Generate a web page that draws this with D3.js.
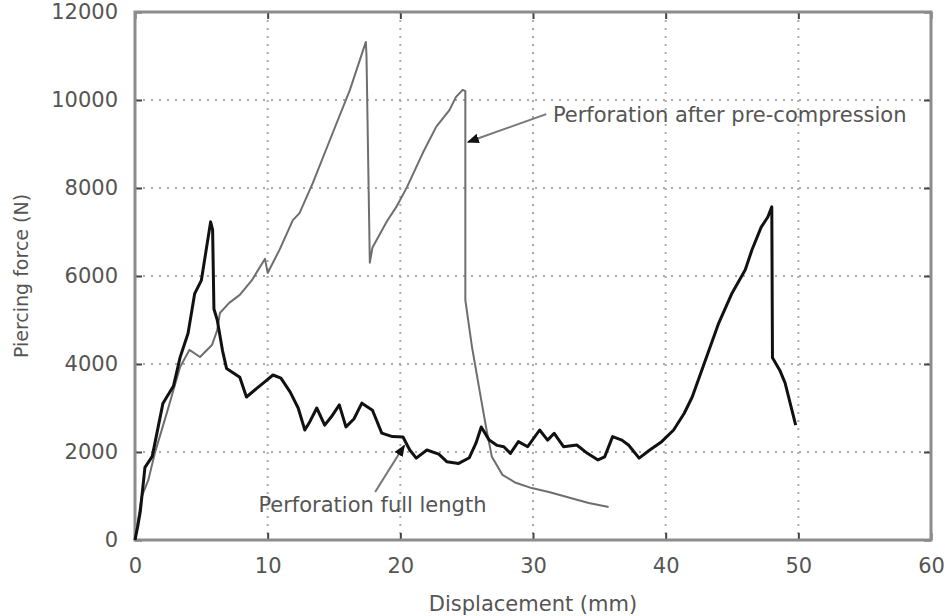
<!DOCTYPE html>
<html>
<head>
<meta charset="utf-8">
<script src="https://cdn.jsdelivr.net/npm/d3@7"></script>
<style>
  body { margin: 0; background: #fff; }
  text { font-family: "DejaVu Sans", sans-serif; fill: #555; }
</style>
</head>
<body>
<div id="chart"></div>
<script>
// Perforation test: displacement (mm) vs piercing force (N)
const xTicks = [0, 10, 20, 30, 40, 50, 60];
const yTicks = [0, 2000, 4000, 6000, 8000, 10000, 12000];

// black curve - perforation full length
const fullLength = [
    [0, 0], [0.2, 300], [0.4, 650], [0.75, 1650], [1.3, 1900], [2.1, 3100], [2.9, 3500],
    [3.4, 4150], [4.0, 4700], [4.5, 5600], [5.0, 5900], [5.7, 7230], [5.85, 7050],
    [5.95, 5250], [6.2, 5000], [6.6, 4300], [6.9, 3900], [7.1, 3860], [7.9, 3700],
    [8.4, 3250], [9.2, 3450], [9.8, 3600], [10.4, 3750], [11.0, 3680], [11.7, 3360],
    [12.3, 3000], [12.8, 2500], [13.2, 2700], [13.7, 3000], [14.3, 2610], [14.8, 2800],
    [15.4, 3070], [15.9, 2570], [16.5, 2750], [17.1, 3110], [17.9, 2950], [18.6, 2430],
    [19.4, 2350], [20.2, 2340], [20.7, 2050], [21.2, 1860], [22.0, 2045], [22.9, 1950],
    [23.5, 1780], [24.4, 1740], [25.2, 1870], [25.7, 2200], [26.1, 2570], [26.7, 2270],
    [27.3, 2150], [27.8, 2120], [28.3, 1970], [28.9, 2235], [29.6, 2120], [30.5, 2500],
    [31.1, 2270], [31.6, 2425], [32.3, 2120], [33.3, 2160], [34.1, 1970], [34.9, 1820],
    [35.4, 1890], [36.0, 2350], [36.7, 2270], [37.2, 2160], [38.0, 1860], [38.8, 2045],
    [39.7, 2235], [40.6, 2500], [41.4, 2880], [42.0, 3250], [43.0, 4090], [44.0, 4930],
    [45.0, 5610], [46.0, 6140], [46.5, 6590], [47.2, 7110], [47.7, 7340], [48.0, 7570],
    [48.05, 4140], [48.6, 3860], [49.0, 3570], [49.8, 2610]
];

// grey curve - perforation after pre-compression
const preCompression = [
    [0, 0], [0.5, 980], [1.0, 1360], [1.5, 1980], [2.4, 2890], [3.4, 3930], [4.1, 4320],
    [4.9, 4160], [5.8, 4430], [6.2, 4770], [6.4, 5160], [7.1, 5390], [7.9, 5570],
    [8.8, 5900], [9.8, 6390], [10.0, 6070], [10.9, 6600], [11.9, 7270], [12.4, 7430],
    [13.4, 8110], [14.9, 9250], [16.2, 10230], [17.4, 11320], [17.45, 11000],
    [17.7, 6300], [17.9, 6650], [19.0, 7250], [19.7, 7570], [20.5, 8020], [21.7, 8800],
    [22.7, 9390], [23.7, 9770], [24.2, 10070], [24.7, 10230], [24.9, 10200], [24.9, 5450],
    [25.4, 4390], [26.1, 3180], [26.5, 2500], [26.9, 1890], [27.7, 1480], [28.7, 1300],
    [29.9, 1180], [31.2, 1090], [32.9, 950], [34.2, 840], [35.7, 750]
];

const width = 947;
const height = 616;
const margin = { top: 12, right: 16, bottom: 76, left: 135 };

const svg = d3.select("#chart")
    .append("svg")
    .attr("width", width)
    .attr("height", height);

const x = d3.scaleLinear()
    .domain([0, 60])
    .range([margin.left, width - margin.right]);

const y = d3.scaleLinear()
    .domain([0, 12000])
    .range([height - margin.bottom, margin.top]);

// dotted grid
svg.append("g")
    .selectAll("line")
    .data(xTicks.slice(1, -1))
    .enter()
    .append("line")
    .attr("x1", d => x(d)).attr("x2", d => x(d))
    .attr("y1", y(12000)).attr("y2", y(0))
    .attr("stroke", "#aaa")
    .attr("stroke-width", 2)
    .attr("stroke-dasharray", "2,6");

svg.append("g")
    .selectAll("line")
    .data(yTicks.slice(1, -1))
    .enter()
    .append("line")
    .attr("x1", x(0)).attr("x2", x(60))
    .attr("y1", d => y(d)).attr("y2", d => y(d))
    .attr("stroke", "#aaa")
    .attr("stroke-width", 2)
    .attr("stroke-dasharray", "2,6");

// axes (ticks point inward)
const fmt = d3.format("d");
svg.append("g")
    .attr("transform", `translate(0,${y(0)})`)
    .call(d3.axisBottom(x).tickValues(xTicks).tickFormat(fmt).tickSizeInner(-7).tickSizeOuter(0).tickPadding(18));
svg.append("g")
    .attr("transform", `translate(${x(0)},0)`)
    .call(d3.axisLeft(y).tickValues(yTicks).tickFormat(fmt).tickSizeInner(-7).tickSizeOuter(0).tickPadding(17));
svg.append("g")
    .attr("transform", `translate(0,${y(12000)})`)
    .call(d3.axisTop(x).tickValues(xTicks).tickSizeInner(-7).tickSizeOuter(0).tickFormat(""));
svg.append("g")
    .attr("transform", `translate(${x(60)},0)`)
    .call(d3.axisRight(y).tickValues(yTicks).tickSizeInner(-7).tickSizeOuter(0).tickFormat(""));

svg.selectAll(".domain").remove();
svg.selectAll(".tick line").attr("stroke", "#444").attr("stroke-width", 2);
svg.selectAll(".tick text")
    .style("font-family", "DejaVu Sans, sans-serif")
    .style("font-size", "21px")
    .attr("fill", "#555");

// frame
svg.append("rect")
    .attr("x", x(0))
    .attr("y", y(12000))
    .attr("width", x(60) - x(0))
    .attr("height", y(0) - y(12000))
    .attr("fill", "none")
    .attr("stroke", "#8c8c8c")
    .attr("stroke-width", 3);

const line = d3.line()
    .x(d => x(d[0]))
    .y(d => y(d[1]));

svg.append("path")
    .datum(preCompression)
    .attr("d", line)
    .attr("fill", "none")
    .attr("stroke", "#6e6e6e")
    .attr("stroke-width", 2)
    .attr("stroke-linejoin", "round");

svg.append("path")
    .datum(fullLength)
    .attr("d", line)
    .attr("fill", "none")
    .attr("stroke", "#111")
    .attr("stroke-width", 3)
    .attr("stroke-linejoin", "round");

// arrow head for annotations
svg.append("defs").append("marker")
    .attr("id", "head")
    .attr("viewBox", "0 0 10 10")
    .attr("refX", 9).attr("refY", 5)
    .attr("markerWidth", 6).attr("markerHeight", 6)
    .attr("markerUnits", "strokeWidth")
    .attr("orient", "auto")
    .append("path")
    .attr("d", "M0,1 L10,5 L0,9 z")
    .attr("fill", "#111");

svg.append("line")
    .attr("x1", x(31.0)).attr("y1", y(9680))
    .attr("x2", x(25.1)).attr("y2", y(9045))
    .attr("stroke", "#777")
    .attr("stroke-width", 2)
    .attr("marker-end", "url(#head)");

svg.append("text")
    .attr("x", x(31.5))
    .attr("y", y(9500))
    .style("font-size", "21px")
    .text("Perforation after pre-compression");

svg.append("line")
    .attr("x1", x(18.1)).attr("y1", y(1090))
    .attr("x2", x(20.3)).attr("y2", y(2150))
    .attr("stroke", "#777")
    .attr("stroke-width", 2)
    .attr("marker-end", "url(#head)");

svg.append("text")
    .attr("x", x(9.3))
    .attr("y", y(636))
    .style("font-size", "21px")
    .text("Perforation full length");

// axis titles
svg.append("text")
    .attr("x", (x(0) + x(60)) / 2)
    .attr("y", 611)
    .attr("text-anchor", "middle")
    .style("font-size", "21px")
    .text("Displacement (mm)");

svg.append("text")
    .attr("transform", `translate(28,${(y(0) + y(12000)) / 2}) rotate(-90)`)
    .attr("text-anchor", "middle")
    .style("font-size", "19px")
    .text("Piercing force (N)");
</script>
</body>
</html>
